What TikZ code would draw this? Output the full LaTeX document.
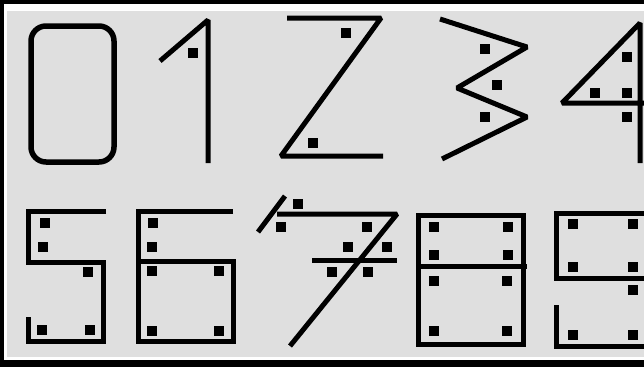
\documentclass[tikz,border=0pt]{standalone}
\newcommand\dotsq[2]{\fill[black] ({#1-5},{#2-5}) rectangle ++(10,10);}
\begin{document}
\begin{tikzpicture}[x=1pt,y=-1pt,
  stroke/.style={line width=5pt,line join=miter,miter limit=2,line cap=butt,black}]
\definecolor{bggray}{HTML}{DFDFDF}
\useasboundingbox (0,0) rectangle (644,367);
\fill[white] (0,0) rectangle (644,367);
\fill[bggray] (7,11) rectangle (644,357);
\fill[black] (0,0) rectangle (644,4);
\fill[black] (0,0) rectangle (4,367);
\fill[black] (0,360) rectangle (644,367);
% 0
\draw[stroke,line width=5.5pt,rounded corners=15pt] (31,26) rectangle (114,162);
% 1
\draw[stroke] (208,163) -- (208,20) -- (160,61);
\dotsq{193}{53}
% 2
\draw[stroke] (287,18) -- (381,18) -- (281,156) -- (383,156);
\dotsq{346}{33}
\dotsq{313}{143}
% 3
\draw[stroke] (440,19) -- (527,47) -- (457,88) -- (527,117) -- (442,159);
\dotsq{485}{49}
\dotsq{497}{85}
\dotsq{485}{117}
% 4
\draw[stroke] (640,163) -- (640,23) -- (562,103) -- (644,103);
\dotsq{627}{57}
\dotsq{595}{93}
\dotsq{627}{93}
\dotsq{627}{117}
% 5
\draw[stroke] (106,211) -- (28,211) -- (28,262) -- (103,262) -- (103,341) -- (28,341) -- (28,317);
\dotsq{45}{223}
\dotsq{43}{247}
\dotsq{88}{272}
\dotsq{42}{330}
\dotsq{90}{330}
% 6
\draw[stroke] (233,211) -- (138,211) -- (138,341) -- (233,341) -- (233,261) -- (138,261);
\dotsq{153}{223}
\dotsq{152}{247}
\dotsq{152}{271}
\dotsq{219}{271}
\dotsq{152}{331}
\dotsq{219}{331}
% 7
\draw[stroke] (277,214) -- (397,214) -- (290,346);
\draw[stroke] (258,232) -- (285,196);
\draw[stroke] (312,260) -- (397,260);
\dotsq{298}{204}
\dotsq{281}{227}
\dotsq{367}{227}
\dotsq{348}{247}
\dotsq{387}{247}
\dotsq{332}{272}
\dotsq{368}{272}
% 8
\draw[stroke] (418,215) rectangle (523,344);
\draw[stroke] (418,266) -- (527,266);
\dotsq{434}{227}
\dotsq{508}{227}
\dotsq{434}{255}
\dotsq{508}{255}
\dotsq{434}{281}
\dotsq{507}{281}
\dotsq{434}{331}
\dotsq{507}{331}
% 9
\draw[stroke] (644,213) -- (556,213) -- (556,281);
\draw[stroke] (556,278) -- (644,278);
\draw[stroke] (556,305) -- (556,346) -- (644,346);
\dotsq{573}{224}
\dotsq{633}{224}
\dotsq{573}{267}
\dotsq{633}{267}
\dotsq{633}{290}
\dotsq{573}{335}
\dotsq{633}{335}
\end{tikzpicture}
\end{document}
